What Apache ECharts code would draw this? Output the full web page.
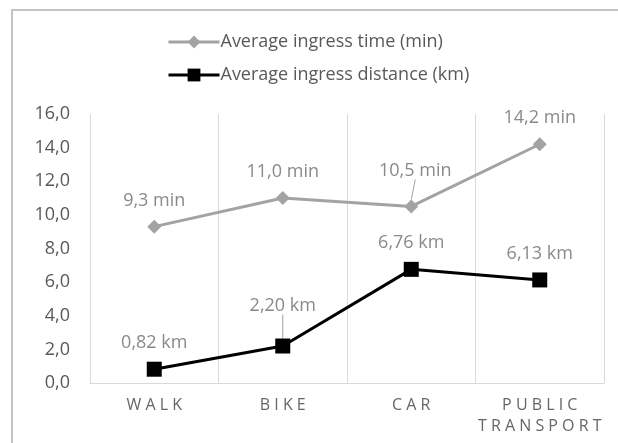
<!DOCTYPE html>
<html>
<head>
<meta charset="utf-8">
<script src="https://cdn.jsdelivr.net/npm/echarts@6/dist/echarts.min.js"></script>
<style>
  html, body { margin: 0; padding: 0; background: #fff; }
  #main { width: 618px; height: 443px; }
</style>
</head>
<body>
<div id="main"></div>
<script>
// data
var modes = ['WALK', 'BIKE', 'CAR', 'PUBLIC TRANSPORT'];
var ingressTime = [9.3, 11.0, 10.5, 14.2];
var ingressDistance = [0.82, 2.20, 6.76, 6.13];
var yTicks = [0, 2, 4, 6, 8, 10, 12, 14, 16];

var FONT = '"Open Sans", sans-serif';
var chart = echarts.init(document.getElementById('main'), null, { renderer: 'canvas' });

// spread letters like the original axis labels
function spaced(name) {
  return name.split(' ').map(function (w) {
    return w.split('').join(' ');
  }).join('\n');
}

// extra lift for the labels that have a leader line
function moveLabel(p) {
  if (p.seriesIndex === 0 && p.dataIndex === 2) return { dy: -10, dx: 4 };
  if (p.seriesIndex === 1 && p.dataIndex === 1) return { dy: -14 };
  return {};
}

// only the moved labels keep a guide line
function withGuide(values, idx) {
  return values.map(function (v, i) {
    return { value: v, labelLine: { show: i === idx } };
  });
}

var option = {
  animation: false,
  textStyle: { fontFamily: FONT },
  graphic: [{
    type: 'rect',
    shape: { x: 12, y: 10, width: 700, height: 500 },
    style: { fill: 'none', stroke: '#c4c4c4', lineWidth: 2 },
    z: -1
  }],
  legend: {
    orient: 'vertical',
    left: 162,
    top: 28,
    itemWidth: 51,
    itemHeight: 16,
    itemGap: 15,
    lineStyle: { width: 3 },
    textStyle: { fontSize: 18, color: '#595959', fontFamily: FONT, padding: [0, 0, 0, -4] },
    data: ['Average ingress time (min)', 'Average ingress distance (km)']
  },
  grid: { left: 90, right: 14, top: 114, bottom: 60 },
  xAxis: {
    type: 'category',
    data: modes,
    boundaryGap: true,
    axisLine: { lineStyle: { color: '#d9d9d9', width: 1 } },
    axisTick: { show: false },
    splitLine: { show: true, interval: 0, lineStyle: { color: '#d9d9d9', width: 1 } },
    axisLabel: {
      interval: 0,
      color: '#666666',
      fontSize: 16,
      lineHeight: 21,
      margin: 12,
      formatter: spaced
    }
  },
  yAxis: {
    type: 'value',
    min: 0,
    max: 16,
    interval: 2,
    axisLine: { show: false },
    axisTick: { show: false },
    splitLine: { show: false },
    axisLabel: {
      color: '#595959',
      fontSize: 18,
      margin: 20,
      formatter: function (v) { return v.toFixed(1).replace('.', ','); }
    }
  },
  series: [{
    name: 'Average ingress time (min)',
    type: 'line',
    data: withGuide(ingressTime, 2),
    symbol: 'diamond',
    symbolSize: 14,
    itemStyle: { color: '#a3a3a3' },
    lineStyle: { color: '#a3a3a3', width: 3 },
    label: {
      show: true,
      position: 'top',
      distance: 10,
      color: '#8a8a8a',
      fontSize: 18,
      formatter: function (p) { return p.value.toFixed(1).replace('.', ',') + ' min'; }
    },
    labelLayout: moveLabel,
    labelLine: { lineStyle: { color: '#a0a0a0', width: 1 } }
  }, {
    name: 'Average ingress distance (km)',
    type: 'line',
    data: withGuide(ingressDistance, 1),
    symbol: 'rect',
    symbolSize: 15,
    itemStyle: { color: '#000' },
    lineStyle: { color: '#000', width: 3 },
    label: {
      show: true,
      position: 'top',
      distance: 10,
      color: '#8a8a8a',
      fontSize: 18,
      formatter: function (p) { return p.value.toFixed(2).replace('.', ',') + ' km'; }
    },
    labelLayout: moveLabel,
    labelLine: { lineStyle: { color: '#a0a0a0', width: 1 } }
  }]
};

chart.setOption(option);
</script>
</body>
</html>
